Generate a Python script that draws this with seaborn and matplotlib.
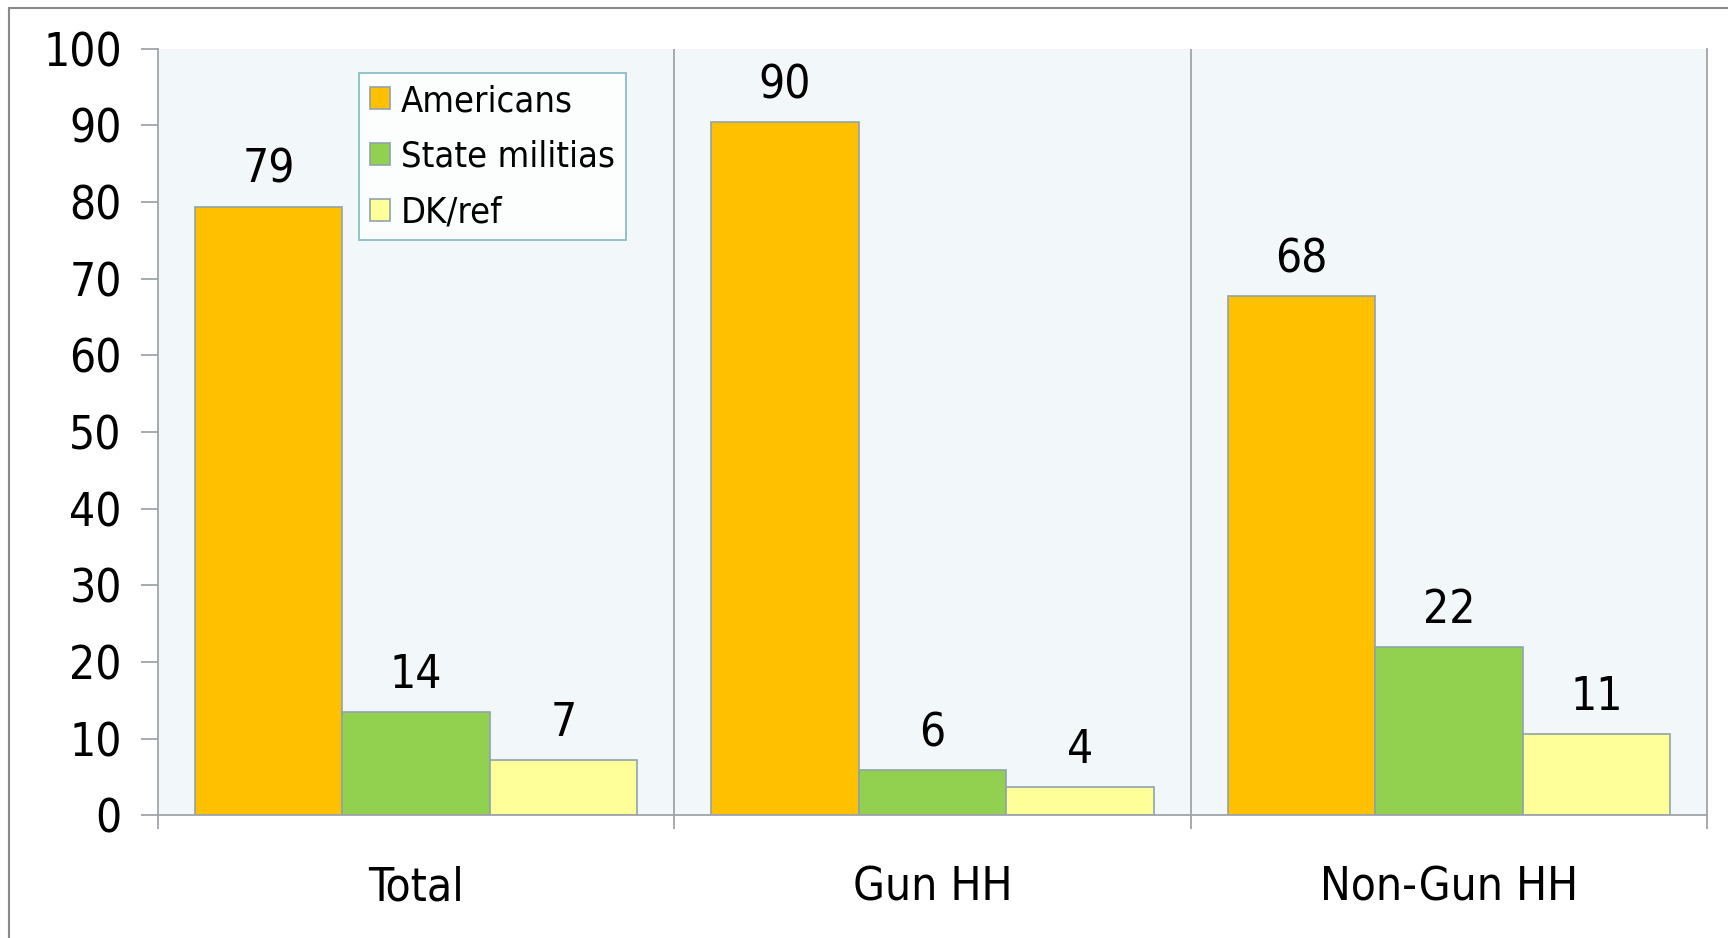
import pandas as pd
import matplotlib.pyplot as plt
import matplotlib.patches as mpatches
import seaborn as sns

# Data
groups = ['Total', 'Gun HH', 'Non-Gun HH']
series = ['Americans', 'State militias', 'DK/ref']
americans = [79.4, 90.4, 67.7]
militias = [13.5, 5.9, 22.0]
dk_ref = [7.3, 3.7, 10.6]
labels_americans = ['79', '90', '68']
labels_militias = ['14', '6', '22']
labels_dk = ['7', '4', '11']

colors = ['#FFC000', '#92D050', '#FFFF99']

rows = []
for s, vals in zip(series, [americans, militias, dk_ref]):
    for g, v in zip(groups, vals):
        rows.append({'group': g, 'series': s, 'value': v})
df = pd.DataFrame(rows)

sns.set_style('white')
plt.rcParams['font.family'] = ['DejaVu Sans']
plt.rcParams['font.stretch'] = 'condensed'
plt.rcParams['text.color'] = 'black'
plt.rcParams['xtick.labelcolor'] = 'black'
plt.rcParams['ytick.labelcolor'] = 'black'

fig = plt.figure(figsize=(17.28, 9.38), dpi=100)
ax = fig.add_axes([0.0914, 0.1306, 0.8966, 0.8174])

sns.barplot(data=df, x='group', y='value', hue='series', palette=colors,
            width=0.857, edgecolor='#8FA3AD', linewidth=1.2, ax=ax, saturation=1)

ax.set_facecolor('#F2F7FA')
ax.set_xlim(-0.5, 2.5)
ax.set_ylim(0, 100)
ax.set_yticks(range(0, 101, 10))
ax.set_xlabel('')
ax.set_ylabel('')

# value labels
for cont, labs in zip(ax.containers, [labels_americans, labels_militias, labels_dk]):
    ax.bar_label(cont, labels=labs, padding=10, fontsize=33, color='black')

# separators between categories
for x in [0.5, 1.5]:
    ax.axvline(x, color='#A0A4A8', lw=1.3, zorder=0.5)

ax.spines['top'].set_visible(False)
for side in ['left', 'bottom', 'right']:
    ax.spines[side].set_color('#A0A4A8')
    ax.spines[side].set_linewidth(1.3)

ax.tick_params(axis='y', length=12, width=1.3, color='#A0A4A8', pad=14,
               labelsize=33, labelcolor='black', left=True)
ax.tick_params(axis='x', which='major', length=0, pad=36, labelsize=33, labelcolor='black')
ax.set_xticks([-0.5, 0.5, 1.5, 2.5], minor=True)
ax.tick_params(axis='x', which='minor', length=10, width=1.3, color='#A0A4A8', bottom=True)

leg = ax.legend(loc='upper left', bbox_to_anchor=(0.13, 0.968), borderaxespad=0,
                fontsize=26, frameon=True, fancybox=False, handlelength=0.55,
                handleheight=0.55, handletextpad=0.3, labelspacing=0.6,
                borderpad=0.3)
leg.get_frame().set_edgecolor('#6FAFB8')
leg.get_frame().set_linewidth(1.3)
leg.get_frame().set_facecolor('white')
for h in leg.legend_handles:
    h.set_edgecolor('#8FA3AD')
for t in leg.get_texts():
    t.set_color('black')

# outer chart frame
frame = mpatches.Rectangle((0.0052, -0.1), 2, 0.9915 + 0.1, transform=fig.transFigure,
                           fill=False, edgecolor='#8A8A8A', lw=1.5)
fig.patches.append(frame)

fig.savefig('out.png', dpi=100)
